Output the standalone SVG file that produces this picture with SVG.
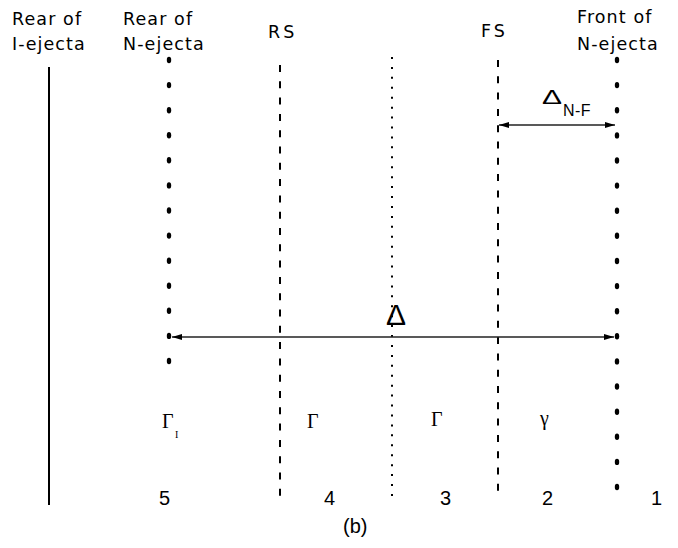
<svg xmlns="http://www.w3.org/2000/svg" width="678" height="548" viewBox="0 0 678 548">
<style>
  .lbl { font-family: "DejaVu Sans", "Liberation Sans", sans-serif; font-size: 17.5px; letter-spacing: 1.1px; fill: #000; }
  .num { font-family: "Liberation Sans", Arial, sans-serif; font-size: 20px; fill: #000; }
  .gr { font-family: "Liberation Serif", "Times New Roman", serif; font-size: 20px; fill: #000; }
  .sub { font-family: "Liberation Serif", "Times New Roman", serif; font-size: 10px; fill: #000; }
  .dash { stroke: #000; stroke-width: 2; stroke-dasharray: 7 9.3; fill: none; }
  .dot { stroke: #000; stroke-width: 2; stroke-dasharray: 2 7.93; fill: none; }
  .arrow { stroke: #222; stroke-width: 1.6; fill: none; marker-start: url(#ah); marker-end: url(#ah); }
</style>
<defs>
  <marker id="ah" viewBox="0 0 10 6" refX="10" refY="3" markerWidth="10" markerHeight="6" markerUnits="userSpaceOnUse" orient="auto-start-reverse">
    <path d="M0,0 L10,3 L0,6 Z" fill="#000"/>
  </marker>
  <ellipse id="bd" rx="2.2" ry="3.2" fill="#000"/>
</defs>
<rect width="678" height="548" fill="#fff"/>

<g id="rear-i-ejecta">
  <text class="lbl" x="12" y="25">Rear of</text>
  <text class="lbl" x="12" y="50">I-ejecta</text>
  <line x1="49" y1="67" x2="49" y2="505" stroke="#000" stroke-width="2"/>
</g>

<g id="rear-n-ejecta">
  <text class="lbl" x="123" y="25">Rear of</text>
  <text class="lbl" x="123" y="50">N-ejecta</text>
  <use href="#bd" x="169" y="60"/>
  <use href="#bd" x="169" y="85.1"/>
  <use href="#bd" x="169" y="110.2"/>
  <use href="#bd" x="169" y="135.3"/>
  <use href="#bd" x="169" y="160.3"/>
  <use href="#bd" x="169" y="185.4"/>
  <use href="#bd" x="169" y="210.5"/>
  <use href="#bd" x="169" y="235.6"/>
  <use href="#bd" x="169" y="260.7"/>
  <use href="#bd" x="169" y="285.8"/>
  <use href="#bd" x="169" y="310.8"/>
  <use href="#bd" x="169" y="335.9"/>
  <use href="#bd" x="169" y="361"/>
</g>

<g id="rs">
  <text class="lbl" x="268" y="38" style="letter-spacing:3px">RS</text>
  <line class="dash" x1="280" y1="65" x2="280" y2="503"/>
</g>

<g id="cd">
  <line class="dot" x1="392" y1="57" x2="392" y2="497"/>
</g>

<g id="fs">
  <text class="lbl" x="481" y="37" style="letter-spacing:3px">FS</text>
  <line class="dash" x1="498" y1="60" x2="498" y2="500"/>
</g>

<g id="front-n-ejecta">
  <text class="lbl" x="577" y="23">Front of</text>
  <text class="lbl" x="577" y="50">N-ejecta</text>
  <use href="#bd" x="617" y="60"/>
  <use href="#bd" x="617" y="85.1"/>
  <use href="#bd" x="617" y="110.2"/>
  <use href="#bd" x="617" y="135.4"/>
  <use href="#bd" x="617" y="160.5"/>
  <use href="#bd" x="617" y="185.6"/>
  <use href="#bd" x="617" y="210.7"/>
  <use href="#bd" x="617" y="235.8"/>
  <use href="#bd" x="617" y="261"/>
  <use href="#bd" x="617" y="286.1"/>
  <use href="#bd" x="617" y="311.2"/>
  <use href="#bd" x="617" y="336.3"/>
  <use href="#bd" x="617" y="361.4"/>
  <use href="#bd" x="617" y="386.5"/>
  <use href="#bd" x="617" y="411.7"/>
  <use href="#bd" x="617" y="436.8"/>
  <use href="#bd" x="617" y="461.9"/>
  <use href="#bd" x="617" y="487"/>
</g>

<g id="connectors">
  <line class="arrow" x1="499" y1="125" x2="615" y2="125"/>
  <line class="arrow" x1="172" y1="337" x2="614" y2="337"/>
  <text x="542" y="104" font-family="Liberation Sans, Arial, sans-serif" font-size="20" textLength="20" lengthAdjust="spacingAndGlyphs">Δ</text>
  <text x="563" y="116" font-family="Liberation Sans, Arial, sans-serif" font-size="16" letter-spacing="0.4">N-F</text>
  <text x="386" y="325" font-family="Liberation Sans, Arial, sans-serif" font-size="30">Δ</text>
</g>

<g id="region-5">
  <text class="gr" x="162" y="428">Γ</text>
  <text class="sub" x="175" y="438">I</text>
  <text class="num" x="159" y="505">5</text>
</g>
<g id="region-4">
  <text class="gr" x="307" y="428">Γ</text>
  <text class="num" x="324" y="505">4</text>
</g>
<g id="region-3">
  <text class="gr" x="431" y="426">Γ</text>
  <text class="num" x="440" y="505">3</text>
</g>
<g id="region-2">
  <text class="gr" x="540" y="425">γ</text>
  <text class="num" x="542" y="505">2</text>
</g>
<g id="region-1">
  <text class="num" x="651" y="505">1</text>
</g>

<text class="num" x="343" y="533">(b)</text>
</svg>
